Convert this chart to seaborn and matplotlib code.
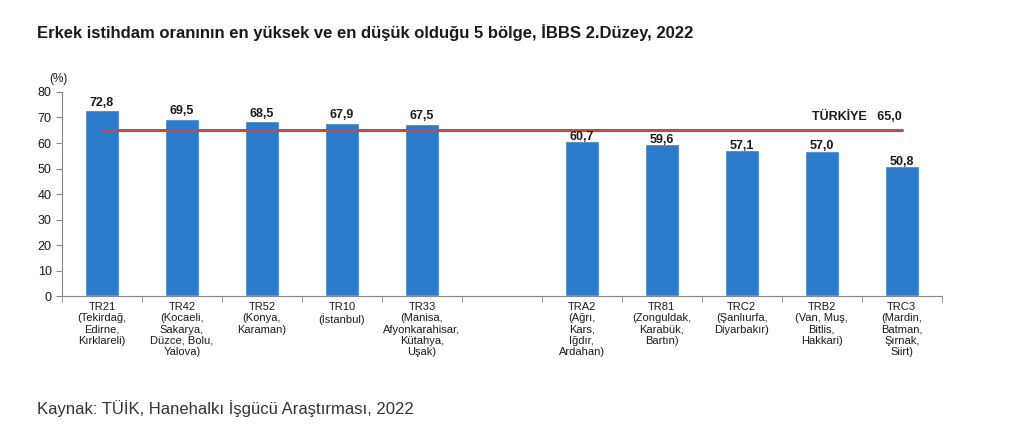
import numpy as np
import pandas as pd
import seaborn as sns
import matplotlib.pyplot as plt

# Region codes and names (one empty slot separates top 5 from bottom 5)
regions = ['TR21\n(Tekirdağ,\nEdirne,\nKırklareli)',
           'TR42\n(Kocaeli,\nSakarya,\nDüzce, Bolu,\nYalova)',
           'TR52\n(Konya,\nKaraman)',
           'TR10\n(İstanbul)',
           'TR33\n(Manisa,\nAfyonkarahisar,\nKütahya,\nUşak)',
           '',
           'TRA2\n(Ağrı,\nKars,\nIğdır,\nArdahan)',
           'TR81\n(Zonguldak,\nKarabük,\nBartın)',
           'TRC2\n(Şanlıurfa,\nDiyarbakır)',
           'TRB2\n(Van, Muş,\nBitlis,\nHakkari)',
           'TRC3\n(Mardin,\nBatman,\nŞırnak,\nSiirt)']
rates = [72.8, 69.5, 68.5, 67.9, 67.5, np.nan, 60.7, 59.6, 57.1, 57.0, 50.8]
turkiye = 65.0

df = pd.DataFrame({'region': regions, 'rate': rates})

sns.set_style('white')
plt.rcParams['font.family'] = ['Liberation Sans', 'DejaVu Sans']

fig = plt.figure(figsize=(10.17, 4.38), dpi=100)
ax = fig.add_axes([0.061, 0.324, 0.865, 0.466])

sns.barplot(data=df, x='region', y='rate', order=regions, color='#2b7bca',
            saturation=1, width=0.42, ax=ax)

# value labels (a bit more room above bars that rise over the average line)
for i, v in enumerate(rates):
    if not np.isnan(v):
        pad = 1.8 if v > turkiye else 0.5
        ax.text(i, v + pad, f'{v:.1f}'.replace('.', ','), ha='center', va='baseline',
                fontsize=9, fontweight='bold', color='#1a1a1a', zorder=4)

# Türkiye average line
ax.plot([0, len(regions) - 1], [turkiye, turkiye], color='#c44a48', lw=2.2, zorder=3)
ax.text(len(regions) - 1, turkiye + 2.8, f'TÜRKİYE   {turkiye:.1f}'.replace('.', ','),
        ha='right', va='bottom', fontsize=9, fontweight='bold', color='#1a1a1a')

ax.set_xlim(-0.5, len(regions) - 0.5)
ax.set_ylim(0, 80)
ax.set_yticks(range(0, 81, 10))
ax.set_xlabel('')
ax.set_ylabel('')
ax.tick_params(axis='y', labelsize=9, length=4, color='#888888', left=True, colors='#1a1a1a')
ax.tick_params(axis='x', labelsize=8, length=0, pad=4, colors='#1a1a1a')
ax.set_xticks(np.arange(-0.5, len(regions), 1), minor=True)
ax.tick_params(axis='x', which='minor', length=4, color='#888888', bottom=True)
for lab in ax.get_xticklabels():
    lab.set_linespacing(1.18)

for s in ['top', 'right']:
    ax.spines[s].set_visible(False)
for s in ['left', 'bottom']:
    ax.spines[s].set_color('#888888')
    ax.spines[s].set_linewidth(0.8)

ax.text(-0.004, 1.035, '(%)', transform=ax.transAxes, fontsize=8.5, ha='center',
        va='bottom', color='#1a1a1a')

fig.text(0.036, 0.925, 'Erkek istihdam oranının en yüksek ve en düşük olduğu 5 bölge, İBBS 2.Düzey, 2022',
         fontsize=12, fontweight='bold', ha='left', va='center', color='#1a1a1a')
fig.text(0.036, 0.068, 'Kaynak: TÜİK, Hanehalkı İşgücü Araştırması, 2022',
         fontsize=12, ha='left', va='center', color='#333333')

fig.savefig('out.png', dpi=100)
